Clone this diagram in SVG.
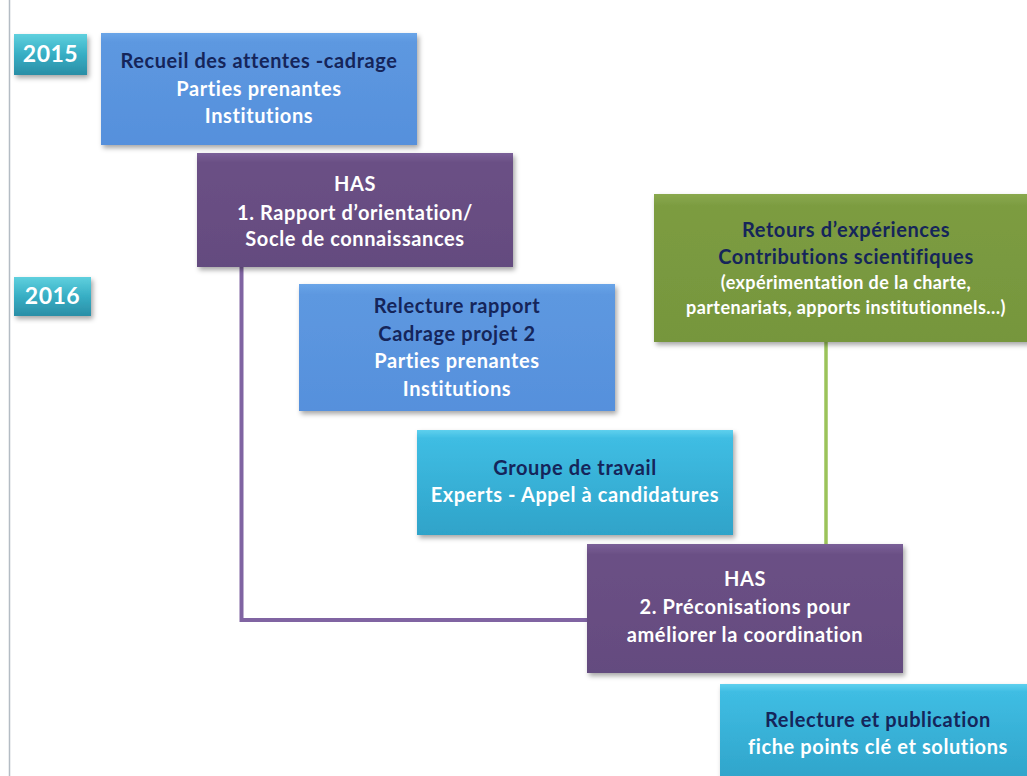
<svg xmlns="http://www.w3.org/2000/svg" width="1027" height="776" viewBox="0 0 1027 776">
<defs>
<linearGradient id="gBlue" x1="0" y1="0" x2="0" y2="1"><stop offset="0" stop-color="#6aa5e8"/><stop offset="0.08" stop-color="#5d98e0"/><stop offset="1" stop-color="#5690dc"/></linearGradient>
<linearGradient id="gPurple" x1="0" y1="0" x2="0" y2="1"><stop offset="0" stop-color="#7a5f98"/><stop offset="0.08" stop-color="#6b5085"/><stop offset="1" stop-color="#644b7f"/></linearGradient>
<linearGradient id="gGreen" x1="0" y1="0" x2="0" y2="1"><stop offset="0" stop-color="#8aa94e"/><stop offset="0.08" stop-color="#7c9c41"/><stop offset="1" stop-color="#76963d"/></linearGradient>
<linearGradient id="gCyan" x1="0" y1="0" x2="0" y2="1"><stop offset="0" stop-color="#5fd0ee"/><stop offset="0.08" stop-color="#3fbde3"/><stop offset="1" stop-color="#2fa3c9"/></linearGradient>
<linearGradient id="gYear" x1="0" y1="0" x2="0" y2="1"><stop offset="0" stop-color="#5fd0de"/><stop offset="0.5" stop-color="#37aec4"/><stop offset="1" stop-color="#2a8ea6"/></linearGradient>
<filter id="sh" x="-10%" y="-10%" width="120%" height="130%"><feDropShadow dx="2" dy="3" stdDeviation="2.5" flood-color="#000" flood-opacity="0.35"/></filter>
</defs>
<style>
text{font-family:"Lato","Liberation Sans",sans-serif;font-weight:bold;font-size:20px;letter-spacing:0.6px;text-anchor:middle}
.w{fill:#ffffff}
.n{fill:#15255a}
.s{font-size:18px;letter-spacing:0.4px}
.y{font-size:23px;fill:#ffffff;letter-spacing:0.5px}
.box{filter:url(#sh)}
</style>
<rect width="1027" height="776" fill="#ffffff"/>
<line x1="9.5" y1="0" x2="9.5" y2="776" stroke="#b4bcc4" stroke-width="1.5"/>
<g id="connectors" fill="none" stroke-linejoin="miter">
<polyline points="241.5,267 241.5,620 587,620" stroke="#8064a2" stroke-width="4"/>
<line x1="826" y1="342" x2="826" y2="544" stroke="#9bc35a" stroke-width="3.5"/>
</g>
<g id="year2015"><rect class="box" x="14" y="34" width="73" height="41" fill="url(#gYear)"/><text class="y" x="50.5" y="62">2015</text></g>
<g id="year2016"><rect class="box" x="14" y="277" width="77" height="39" fill="url(#gYear)"/><text class="y" x="52.5" y="304">2016</text></g>
<g id="recueil"><rect class="box" x="101" y="33" width="316" height="112" fill="url(#gBlue)"/>
<text class="n" x="259" y="68" textLength="277" lengthAdjust="spacingAndGlyphs">Recueil des attentes -cadrage</text>
<text class="w" x="259" y="96">Parties prenantes</text>
<text class="w" x="259" y="123">Institutions</text></g>
<g id="has1"><rect class="box" x="197" y="153" width="316" height="114" fill="url(#gPurple)"/>
<text class="w" x="355" y="191">HAS</text>
<text class="w" x="355" y="220">1. Rapport  d’orientation/</text>
<text class="w" x="355" y="246">Socle de connaissances</text></g>
<g id="retours"><rect class="box" x="654" y="194" width="376" height="148" fill="url(#gGreen)"/>
<text class="n" x="846" y="237">Retours  d’expériences</text>
<text class="n" x="846" y="264">Contributions  scientifiques</text>
<text class="w s" x="846" y="289">(expérimentation de la charte,</text>
<text class="w s" x="846" y="314">partenariats, apports institutionnels…)</text></g>
<g id="relecture"><rect class="box" x="299" y="284" width="316" height="127" fill="url(#gBlue)"/>
<text class="n" x="457" y="313">Relecture rapport</text>
<text class="n" x="457" y="341">Cadrage  projet 2</text>
<text class="w" x="457" y="368">Parties prenantes</text>
<text class="w" x="457" y="396">Institutions</text></g>
<g id="groupe"><rect class="box" x="417" y="430" width="316" height="105" fill="url(#gCyan)"/>
<text class="n" x="575" y="475">Groupe  de travail</text>
<text class="w" x="575" y="502">Experts  - Appel à candidatures</text></g>
<g id="has2"><rect class="box" x="587" y="544" width="316" height="129" fill="url(#gPurple)"/>
<text class="w" x="745" y="586">HAS</text>
<text class="w" x="745" y="614">2. Préconisations  pour</text>
<text class="w" x="745" y="642">améliorer  la coordination</text></g>
<g id="publication"><rect class="box" x="720" y="684" width="310" height="100" fill="url(#gCyan)"/>
<text class="n" x="878" y="727">Relecture et publication</text>
<text class="w" x="878" y="754">fiche points  clé et solutions</text></g>
</svg>
